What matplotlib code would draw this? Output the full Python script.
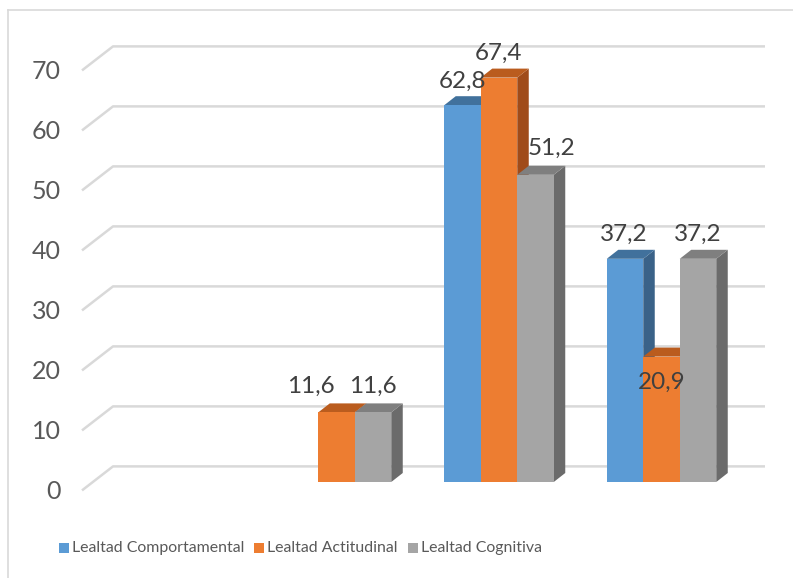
import matplotlib.pyplot as plt
import matplotlib.patches as patches
from matplotlib.lines import Line2D

# Datos por serie (porcentajes), cuatro grupos; el primero vale cero en todas
series_names = ['Lealtad Comportamental', 'Lealtad Actitudinal', 'Lealtad Cognitiva']
comportamental = [0, 0, 62.8, 37.2]
actitudinal = [0, 11.6, 67.4, 20.9]
cognitiva = [0, 11.6, 51.2, 37.2]
y_ticks = [0, 10, 20, 30, 40, 50, 60, 70]

series_values = [comportamental, actitudinal, cognitiva]

# Colores: frente, tapa y lateral de cada serie
front_colors = ['#5B9BD5', '#ED7D31', '#A5A5A5']
top_colors = ['#41719C', '#BA5C1E', '#7F7F7F']
side_colors = ['#3A6288', '#A04B19', '#6B6B6B']

# Desplazamiento de las etiquetas de valor (px) respecto al centro de la cara frontal
label_offsets = [
    [(0, 25), (0, 25), (0, 24), (-1, 24)],
    [(0, 25), (-26, 26), (-1, 24), (0, -26)],
    [(0, 25), (0, 26), (16, 26), (0, 24)],
]

FONT = ['Lato', 'DejaVu Sans']

W_PX, H_PX = 793, 578
DPI = 100
X0_PX = 174.0      # centro del primer grupo
PX_PER_CAT = 162.5
BASE_PX = 482.0    # base de las barras
PX_PER_UNIT = 6.0

bar_w = 36.5 / PX_PER_CAT
depth_dx = 11.5 / PX_PER_CAT
depth_dy = 9.0 / PX_PER_UNIT

grid_x0 = (113 - X0_PX) / PX_PER_CAT
grid_x1 = (765 - X0_PX) / PX_PER_CAT
grid_front_x = (82 - X0_PX) / PX_PER_CAT
grid_back_dy = 2.6
grid_front_dy = -1.4

fig = plt.figure(figsize=(W_PX / DPI, H_PX / DPI), dpi=DPI)
ax = fig.add_axes([0, 0, 1, 1])
ax.set_xlim(-X0_PX / PX_PER_CAT, (W_PX - X0_PX) / PX_PER_CAT)
ax.set_ylim((BASE_PX - H_PX) / PX_PER_UNIT, BASE_PX / PX_PER_UNIT)
ax.axis('off')

# Marco del gráfico
border = '#D9D9D9'
fig.add_artist(Line2D([8 / W_PX, 8 / W_PX], [0, 1 - 10 / H_PX], color=border, lw=1.2))
fig.add_artist(Line2D([8 / W_PX, 1], [1 - 10 / H_PX, 1 - 10 / H_PX], color=border, lw=1.2))

# Líneas de división: pared del fondo y diagonal hacia el frente
for v in y_ticks:
    ax.plot([grid_front_x, grid_x0, grid_x1],
            [v + grid_front_dy, v + grid_back_dy, v + grid_back_dy],
            color='#D9D9D9', lw=1.8, solid_capstyle='butt', zorder=1)
    ax.text((61 - X0_PX) / PX_PER_CAT, v - 1.55, str(v), ha='right', va='center',
            fontsize=18, color='#595959', family=FONT)

# Barras con efecto 3D, dibujadas de izquierda a derecha
n_cat = len(comportamental)
order = 0
for c in range(n_cat):
    for s, vals in enumerate(series_values):
        h = vals[c]
        xc = c + (s - 1) * bar_w
        xl, xr = xc - bar_w / 2, xc + bar_w / 2
        z = 3 + order * 0.1
        order += 1
        if h <= 0:
            continue
        side = patches.Polygon([(xr, 0), (xr + depth_dx, depth_dy),
                                (xr + depth_dx, h + depth_dy), (xr, h)],
                               closed=True, facecolor=side_colors[s], edgecolor='none', zorder=z)
        top = patches.Polygon([(xl, h), (xr, h), (xr + depth_dx, h + depth_dy),
                               (xl + depth_dx, h + depth_dy)],
                              closed=True, facecolor=top_colors[s], edgecolor='none', zorder=z + 0.01)
        ax.add_patch(side)
        ax.add_patch(top)
        ax.bar(xc, h, width=bar_w, color=front_colors[s], edgecolor='none', zorder=z + 0.02)

        dx_px, dy_px = label_offsets[s][c]
        ax.annotate(f'{h:.1f}'.replace('.', ','), xy=(xc, h),
                    xytext=(dx_px * 72 / DPI, dy_px * 72 / DPI), textcoords='offset points',
                    ha='center', va='center', fontsize=17.5, color='#404040',
                    family=FONT, zorder=10)

# Leyenda
legend_sq_px = [59, 254, 408]
legend_y = (BASE_PX - 548) / PX_PER_UNIT
sq_w = 10 / PX_PER_CAT
sq_h = 10 / PX_PER_UNIT
for s, name in enumerate(series_names):
    x = (legend_sq_px[s] - X0_PX) / PX_PER_CAT
    ax.add_patch(patches.Rectangle((x, legend_y - sq_h / 2), sq_w, sq_h,
                                   facecolor=front_colors[s], edgecolor='none'))
    ax.text(x + 13 / PX_PER_CAT, legend_y, name, ha='left', va='center',
            fontsize=11.4, color='#595959', family=FONT)

fig.savefig('out.png', dpi=DPI)
plt.close(fig)
